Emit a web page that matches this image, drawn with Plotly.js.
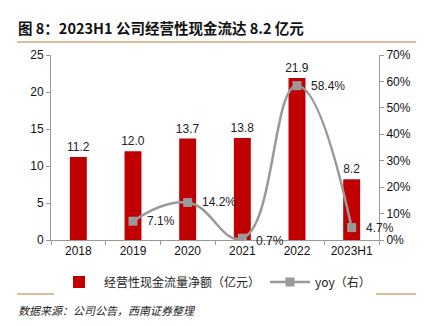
<!DOCTYPE html>
<html><head><meta charset="utf-8">
<script src="https://cdn.plot.ly/plotly-3.0.1.min.js"></script>
<style>html,body{margin:0;padding:0;background:#fff}#c{width:434px;height:326px}</style>
</head><body><div id="c"></div>
<script>
const categories = ["2018","2019","2020","2021","2022","2023H1"];
const cashflow = [11.2, 12.0, 13.7, 13.8, 21.9, 8.2];
const yoyCats = ["2019","2020","2021","2022","2023H1"];
const yoy = [7.1, 14.2, 0.7, 58.4, 4.7];
const barLabels = ["11.2","12.0","13.7","13.8","21.9","8.2"];
const yoyLabels = ["7.1%","14.2%","0.7%","58.4%","4.7%"];
const leftTicks = [0,5,10,15,20,25];
const rightTicks = [0,10,20,30,40,50,60,70];

const cjk = '"Noto Sans CJK SC", "Liberation Sans", sans-serif';
const lat = '"Liberation Sans", Arial, sans-serif';

const traces = [
  {type:'bar', x:categories, y:cashflow, name:'经营性现金流量净额（亿元）',
   marker:{color:'#c00000'}, width:0.31,
   text:barLabels, textposition:'outside', cliponaxis:false, constraintext:'none',
   textfont:{family:lat, size:12, color:'#222'}},
  {type:'scatter', mode:'lines+markers', x:yoyCats, y:yoy, yaxis:'y2',
   name:'yoy（右）', line:{color:'#999999', width:2.5, shape:'spline', smoothing:1.3},
   marker:{symbol:'square', size:9, color:'#999999'}}
];

const yoyAnn = yoyCats.map((c,i)=>({
  xref:'x', yref:'y2', x:categories.indexOf(c), y:yoy[i], text:yoyLabels[i], showarrow:false,
  xanchor:'left', yanchor:'middle', xshift:12, yshift:(i===2?-3:0),
  font:{family:lat, size:12, color:'#222'}
}));

const layout = {
  width:434, height:326,
  margin:{l:51, r:55, t:55, b:86},
  paper_bgcolor:'#fff', plot_bgcolor:'#fff',
  showlegend:true,
  xaxis:{type:'category', categoryarray:categories, categoryorder:'array', range:[-0.5,5.5],
    showline:true, linecolor:'#999', linewidth:1,
    ticks:'outside', tickson:'boundaries', ticklen:4, tickcolor:'#999',
    tickfont:{family:lat, size:12, color:'#111'}, showgrid:false, zeroline:false},
  yaxis:{range:[0,25], tickvals:leftTicks, showline:true, linecolor:'#999', linewidth:1,
    ticks:'outside', ticklen:4, tickcolor:'#999', showgrid:false, zeroline:false,
    tickfont:{family:lat, size:12, color:'#111'}},
  yaxis2:{range:[0,70], tickvals:rightTicks, ticktext:rightTicks.map(v=>v+'%'), overlaying:'y', side:'right',
    showline:true, linecolor:'#999', linewidth:1, ticks:'outside', ticklen:4, tickcolor:'#999',
    showgrid:false, zeroline:false, tickfont:{family:lat, size:12, color:'#111'}},
  legend:{orientation:'h', x:0.5, xanchor:'center', y:-0.227, yanchor:'middle',
    font:{family:cjk, size:12, color:'#222'}, itemwidth:40, traceorder:'normal'},
  annotations:[
    {xref:'paper', yref:'paper', x:-0.107, y:1.146, xanchor:'left', yanchor:'middle', showarrow:false,
     text:'<b>图 8：2023H1 公司经营性现金流达 8.2 亿元</b>', font:{family:cjk, size:14.5, color:'#111'}},
    {xref:'paper', yref:'paper', x:-0.107, y:-0.378, xanchor:'left', yanchor:'middle', showarrow:false,
     text:'<i>数据来源：公司公告，西南证券整理</i>', font:{family:cjk, size:11, color:'#222'}}
  ].concat(yoyAnn),
  shapes:[
    {type:'line', xref:'paper', yref:'paper', x0:-0.104, x1:1.113, y0:1.070, y1:1.070, line:{color:'#d4a774', width:1.5}},
    {type:'line', xref:'paper', yref:'paper', x0:-0.104, x1:1.113, y0:-0.292, y1:-0.292, line:{color:'#d4a774', width:1.5}}
  ]
};
Plotly.newPlot('c', traces, layout, {displayModeBar:false, staticPlot:true});
</script></body></html>
